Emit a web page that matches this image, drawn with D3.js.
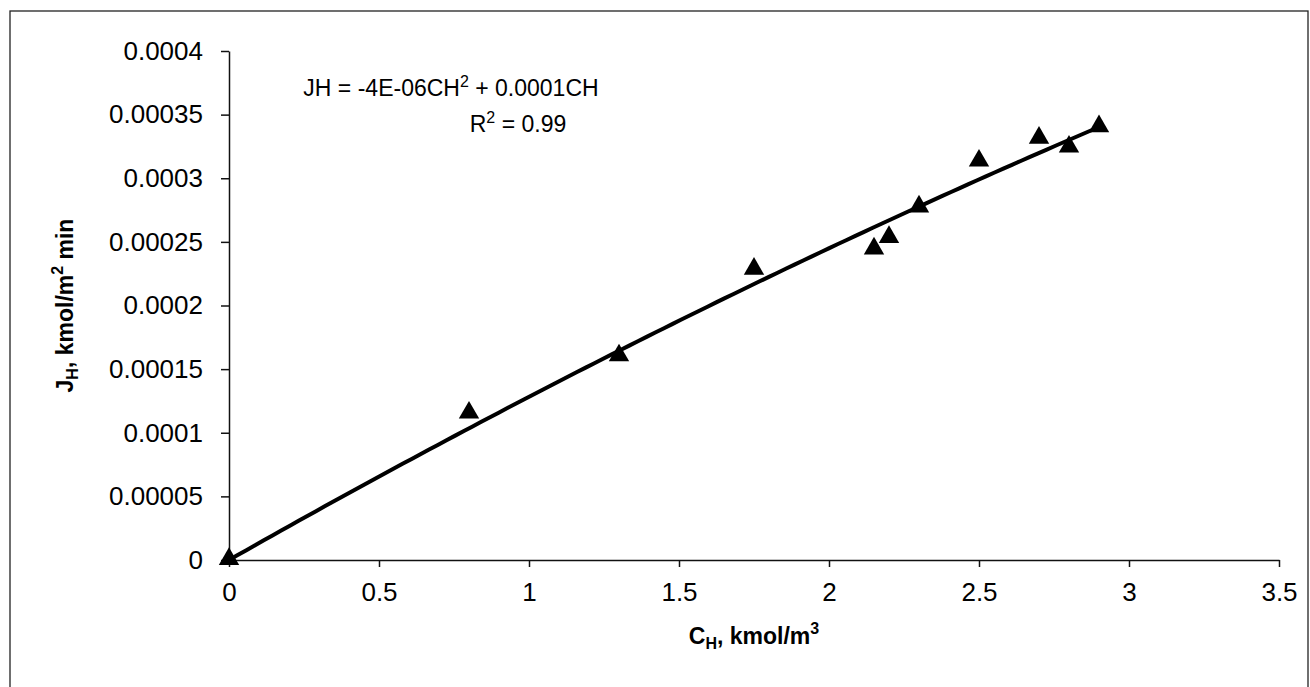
<!DOCTYPE html>
<html>
<head>
<meta charset="utf-8">
<script src="https://cdn.jsdelivr.net/npm/d3@7"></script>
<style>
  html, body { margin: 0; padding: 0; background: #fff; }
  svg { display: block; font-family: "Liberation Sans", Arial, sans-serif; }
</style>
</head>
<body>
<svg id="chart" width="1310" height="687"></svg>
<script>
// ---- data ----
const xValues = [0, 0.8, 1.3, 1.75, 2.15, 2.2, 2.3, 2.5, 2.7, 2.8, 2.9];
const yValues = [0, 0.000115, 0.00016, 0.000228, 0.000244, 0.000253, 0.000277, 0.000313, 0.000331, 0.000324, 0.00034];
const xTicks = [0, 0.5, 1, 1.5, 2, 2.5, 3, 3.5];
const yTicks = [0, 0.00005, 0.0001, 0.00015, 0.0002, 0.00025, 0.0003, 0.00035, 0.0004];
const xTickLabels = ["0", "0.5", "1", "1.5", "2", "2.5", "3", "3.5"];
const yTickLabels = ["0", "0.00005", "0.0001", "0.00015", "0.0002", "0.00025", "0.0003", "0.00035", "0.0004"];

const svg = d3.select("#chart");
const pLeft = 229, pRight = 1279, pTop = 51, pBottom = 560;

const x = d3.scaleLinear().domain([0, 3.5]).range([pLeft, pRight]);
const y = d3.scaleLinear().domain([0, 0.0004]).range([pBottom, pTop]);

// outer frame
svg.append("rect").attr("x", 10).attr("y", 11).attr("width", 1298).attr("height", 700)
  .attr("fill", "none").attr("stroke", "#222").attr("stroke-width", 1.3);

// axes
const xAxis = d3.axisBottom(x).tickValues(xTicks).tickSize(7).tickSizeOuter(0)
  .tickFormat((d, i) => xTickLabels[i]);
const gx = svg.append("g").attr("transform", `translate(0,${pBottom})`).call(xAxis);
gx.select(".domain").attr("stroke", "#111").attr("stroke-width", 1.5);
gx.selectAll(".tick line").attr("stroke", "#111").attr("stroke-width", 1.5);
gx.selectAll(".tick text").attr("font-size", 26).attr("fill", "#000")
  .attr("font-family", "Liberation Sans, Arial, sans-serif").attr("y", 23).attr("dy", "0.71em");

const yAxis = d3.axisLeft(y).tickValues(yTicks).tickSize(8).tickSizeOuter(0)
  .tickFormat((d, i) => yTickLabels[i]);
const gy = svg.append("g").attr("transform", `translate(${pLeft},0)`).call(yAxis);
gy.select(".domain").attr("stroke", "#111").attr("stroke-width", 1.5);
gy.selectAll(".tick line").attr("stroke", "#111").attr("stroke-width", 1.5);
gy.selectAll(".tick text").attr("font-size", 26).attr("fill", "#000")
  .attr("font-family", "Liberation Sans, Arial, sans-serif").attr("x", -26);

// trendline: least squares y = a x^2 + b x (intercept 0)
let s2 = 0, s3 = 0, s4 = 0, sxy = 0, sx2y = 0;
xValues.forEach((xv, i) => {
  const yv = yValues[i];
  s2 += xv * xv; s3 += xv ** 3; s4 += xv ** 4; sxy += xv * yv; sx2y += xv * xv * yv;
});
const det = s4 * s2 - s3 * s3;
const a = (sx2y * s2 - s3 * sxy) / det;
const b = (s4 * sxy - s3 * sx2y) / det;
const xMax = d3.max(xValues);
const fitPts = d3.range(0, 101).map(i => {
  const xv = xMax * i / 100;
  return [xv, a * xv * xv + b * xv];
});
svg.append("path").datum(fitPts)
  .attr("d", d3.line().x(d => x(d[0])).y(d => y(d[1])))
  .attr("fill", "none").attr("stroke", "#000").attr("stroke-width", 4);

// markers
const tri = d3.symbol().type(d3.symbolTriangle).size(180);
svg.append("g").selectAll("path").data(xValues).join("path")
  .attr("d", tri)
  .attr("transform", (d, i) => `translate(${x(d)},${y(yValues[i]) - 1})`)
  .attr("fill", "#000");

// equation
const eq = svg.append("text").attr("x", 451).attr("y", 96).attr("text-anchor", "middle")
  .attr("font-size", 23).attr("fill", "#000");
eq.append("tspan").text("JH = -4E-06CH");
eq.append("tspan").attr("font-size", 16).attr("dy", -9).text("2");
eq.append("tspan").attr("dy", 9).text(" + 0.0001CH");

const r2 = svg.append("text").attr("x", 518).attr("y", 132).attr("text-anchor", "middle")
  .attr("font-size", 23).attr("fill", "#000");
r2.append("tspan").text("R");
r2.append("tspan").attr("font-size", 16).attr("dy", -9).text("2");
r2.append("tspan").attr("dy", 9).text(" = 0.99");

// x axis title
const xt = svg.append("text").attr("x", (pLeft + pRight) / 2).attr("y", 644).attr("text-anchor", "middle")
  .attr("font-size", 23).attr("font-weight", "bold").attr("fill", "#000");
xt.append("tspan").text("C");
xt.append("tspan").attr("font-size", 16).attr("dy", 5).text("H");
xt.append("tspan").attr("dy", -5).text(", kmol/m");
xt.append("tspan").attr("font-size", 16).attr("dy", -10).text("3");

// y axis title
const yt = svg.append("text").attr("transform", `translate(73,${(pTop + pBottom) / 2}) rotate(-90)`)
  .attr("text-anchor", "middle").attr("font-size", 23).attr("font-weight", "bold").attr("fill", "#000");
yt.append("tspan").text("J");
yt.append("tspan").attr("font-size", 16).attr("dy", 5).text("H");
yt.append("tspan").attr("dy", -5).text(", kmol/m");
yt.append("tspan").attr("font-size", 16).attr("dy", -10).text("2");
yt.append("tspan").attr("dy", 10).text(" min");
</script>
</body>
</html>
